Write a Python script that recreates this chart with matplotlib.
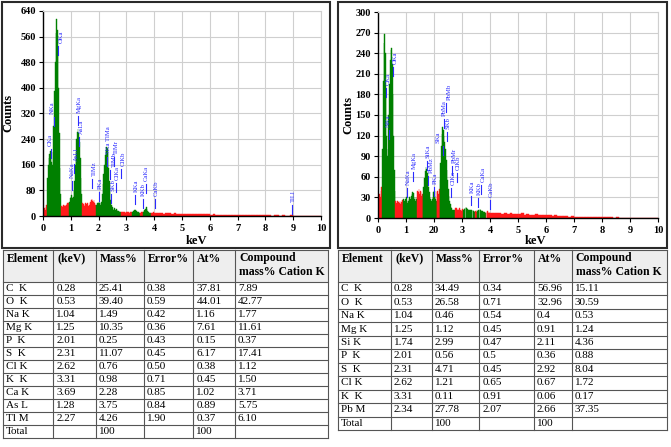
import numpy as np
import matplotlib
matplotlib.use('Agg')
import matplotlib.pyplot as plt
from matplotlib.patches import Rectangle

plt.rcParams['font.family'] = ['Liberation Serif', 'DejaVu Serif']

# ---------------------------------------------------------------- data
FINE_STEP = 0.025   # keV per channel below 4 keV
TAIL_STEP = 0.1     # keV per channel from 4 keV

counts_A_fine = [
    22, 26, 24, 18, 28, 35,
    120, 160, 180, 195, 203, 190, 170, 160, 200, 280,
    390, 480, 570, 615, 580, 520, 400, 260, 150, 70,
    30, 32, 28, 35, 30, 33, 30, 35, 38, 40, 42, 40,
    45, 55, 60, 65, 55, 60, 80, 110, 160, 200, 240, 262, 272, 260, 230, 180, 120, 70,
    40, 35, 38, 30, 35, 40, 38, 35, 42, 30, 35, 40, 45, 50, 52, 48, 45, 50, 40, 35,
    35, 35, 40, 42, 45, 40, 35, 40, 45, 70, 100, 130, 160, 190, 205, 215, 212, 190,
    150, 110, 75, 50, 35, 28,
    22, 20, 25, 18, 20, 22, 18, 15, 17, 15, 14, 12,
    12, 10, 14, 11, 13, 12, 10, 14, 12, 11, 13, 12, 10, 12, 11, 13,
    12, 14, 16, 18, 20, 18, 15, 13, 12, 11, 10, 9,
    10, 12, 9, 11,
    12, 15, 18, 22, 28, 22, 16, 12, 10, 9, 10, 8,
    10, 9, 11, 10,
]
counts_A_tail = [
    9, 8, 9, 7, 8, 8, 7, 8, 6, 7,
    6, 7, 6, 5, 6, 5, 6, 7, 5, 5,
    4, 5, 4, 4, 3, 4, 4, 3, 4, 3,
    3, 3, 2, 3, 3, 2, 2, 3, 2, 2,
    2, 2, 1, 2, 2, 1, 2, 1, 1, 2,
    1, 1, 1, 1, 1, 1, 1, 1, 1, 1,
]
green_A = [(0.15, 0.65), (0.95, 1.4), (1.9, 2.8), (3.2, 3.5), (3.6, 3.9)]

counts_B_fine = [
    32, 28, 35, 30, 40, 45,
    100, 200, 255, 268, 240, 180, 120, 90, 100, 150, 195, 230, 245, 247, 225, 180, 120, 70, 40,
    25, 22, 25, 20, 24, 22, 25, 20, 23, 18, 26,
    28, 25, 22, 28, 30, 25, 22, 25, 28, 30, 28, 32, 35, 38, 36, 30, 28, 25, 30, 28,
    40, 38, 42, 35, 40, 38, 32, 35,
    35, 45, 58, 68, 75, 72, 65, 55, 45, 38, 30, 28, 25, 28, 30, 38, 40, 32, 28, 25,
    38, 40, 35, 42,
    55, 80, 105, 122, 133, 128, 120, 110, 100, 85, 70, 55, 42, 32, 25, 20, 16, 14, 12, 12, 10, 11,
    14, 12, 15, 11, 13, 12, 14, 11, 12, 10, 13, 11,
    12, 13, 15, 16, 14, 13, 12, 11, 12, 10, 11, 12, 10, 11, 10, 9, 10,
    10, 9, 11,
    10, 11, 12, 13, 11, 10, 9, 10, 9, 8, 9, 8,
    9, 8, 10, 8, 9, 8,
]
counts_B_tail = [
    8, 7, 8, 7, 6, 7, 6, 7, 6, 6,
    6, 7, 5, 6, 5, 5, 6, 5, 4, 5,
    4, 4, 3, 4, 3, 3, 3, 3, 2, 3,
    2, 2, 2, 2, 1.5, 2, 1.5, 1, 1.5, 1,
    1, 1, 1.5, 1, 0.5, 1, 0.5, 0.5, 0.5, 0,
    0.5, 0, 0, 0, 0.5, 0, 0, 0, 0, 0,
]
green_B = [(0.15, 0.625), (0.9, 1.4), (1.6, 2.1), (2.2, 2.75), (3.05, 3.475), (3.55, 3.85)]

# peak identification labels (line energy, text level in counts)
label_names_A = ['CKa', 'NKa', 'OKa', 'NaKa', 'AsLl', 'MgKa', 'AsLa', 'TlMz', 'PKa',
                 'SKa TlMa', 'TlMb', 'SKb', 'ClKa', 'TlMr', 'ClKb', 'KKa', 'KKb',
                 'CaKa', 'CaKb', 'TlLl']
label_keV_A = [0.277, 0.392, 0.525, 1.041, 1.12, 1.253, 1.282, 1.78, 2.013,
               2.307, 2.42, 2.464, 2.621, 2.57, 2.815, 3.312, 3.589, 3.69, 4.012, 8.953]
label_level_A = [218, 317, 540, 120, 172, 322, 255, 125, 83,
                 195, 152, 78, 112, 195, 156, 74, 62, 109, 62, 45]

label_names_B = ['CKa', 'NKa', 'OKa', 'NaKa', 'MgKa', 'SiKa', 'PbMz', 'PKa', 'SKa',
                 'PbMa', 'SKb', 'PbMb', 'ClKa', 'PbMr', 'ClKb', 'KKa', 'KKb', 'CaKa', 'CaKb']
label_keV_B = [0.277, 0.392, 0.525, 1.041, 1.253, 1.739, 1.78, 2.013, 2.307,
               2.342, 2.464, 2.443, 2.621, 2.65, 2.815, 3.312, 3.589, 3.69, 4.012]
label_level_B = [194, 133, 225, 48, 72, 87, 65, 50, 109,
                 148, 129, 172, 48, 80, 70, 36, 33, 53, 31]

xtick_labels_A = ['0', '1', '2', '3', '4', '5', '6', '7', '8', '9', '10']
xtick_labels_B = ['0', '1', '20', '3', '4', '5', '6', '7', '8', '9', '10']

# tables
table_header = ['Element', '(keV)', 'Mass%', 'Error%', 'At%', 'Compound\nmass% Cation K']

element_A = ['C  K', 'O  K', 'Na K', 'Mg K', 'P  K', 'S  K', 'Cl K', 'K  K', 'Ca K', 'As L', 'Tl M', 'Total']
kev_A = ['0.28', '0.53', '1.04', '1.25', '2.01', '2.31', '2.62', '3.31', '3.69', '1.28', '2.27', '']
mass_A = ['25.41', '39.40', '1.49', '10.35', '0.25', '11.07', '0.76', '0.98', '2.28', '3.75', '4.26', '100']
error_A = ['0.38', '0.59', '0.42', '0.36', '0.43', '0.45', '0.50', '0.71', '0.85', '0.84', '1.90', '']
at_A = ['37.81', '44.01', '1.16', '7.61', '0.15', '6.17', '0.38', '0.45', '1.02', '0.89', '0.37', '100']
compound_A = ['7.89', '42.77', '1.77', '11.61', '0.37', '17.41', '1.12', '1.50', '3.71', '5.75', '6.10', '']

element_B = ['C  K', 'O  K', 'Na K', 'Mg K', 'Si K', 'P  K', 'S  K', 'Cl K', 'K  K', 'Pb M', 'Total']
kev_B = ['0.28', '0.53', '1.04', '1.25', '1.74', '2.01', '2.31', '2.62', '3.31', '2.34', '']
mass_B = ['34.49', '26.58', '0.46', '1.12', '2.99', '0.56', '4.71', '1.21', '0.11', '27.78', '100']
error_B = ['0.34', '0.71', '0.54', '0.45', '0.47', '0.5', '0.45', '0.65', '0.91', '2.07', '']
at_B = ['56.96', '32.96', '0.4', '0.91', '2.11', '0.36', '2.92', '0.67', '0.06', '2.66', '100']
compound_B = ['15.11', '30.59', '0.53', '1.24', '4.36', '0.88', '8.04', '1.72', '0.17', '37.35', '']

# ---------------------------------------------------------------- layout / style
W, H = 671, 447
RED = '#ff1a1a'
GREEN = '#008000'
BLUE = '#2b2bff'
TAG_BLUE = '#1f2fd0'
LINE = '#555555'

# x position (keV) where each label text sits (layout only)
text_x_A = [0.26, 0.34, 0.64, 1.07, 1.2, 1.32, 1.39, 1.83, 2.05,
            2.36, 2.57, 2.53, 2.67, 2.64, 2.87, 3.35, 3.61, 3.73, 4.07, 9.0]
text_x_B = [0.38, 0.38, 0.62, 1.07, 1.31, 1.79, 1.91, 2.06, 2.14,
            2.38, 2.5, 2.56, 2.68, 2.71, 2.86, 3.37, 3.63, 3.77, 4.05]

fig = plt.figure(figsize=(W / 100, H / 100), dpi=100)
ov = fig.add_axes([0, 0, 1, 1])
ov.set_xlim(0, W)
ov.set_ylim(H, 0)
ov.axis('off')


def rect(x0, y0, x1, y1):
    return [x0 / W, 1 - y1 / H, (x1 - x0) / W, (y1 - y0) / H]


def draw_spectrum(box, fine, tail, green, names, kevs, levels, text_x,
                  ymax, ystep, xlabels, tag, tag_xy, ylab_x, xlab_xy):
    ax = fig.add_axes(rect(*box))
    e_f = np.arange(len(fine)) * FINE_STEP
    e_t = len(fine) * FINE_STEP + np.arange(len(tail)) * TAIL_STEP
    edges = np.concatenate([e_f, e_t])
    widths = np.concatenate([np.full(len(fine), FINE_STEP), np.full(len(tail), TAIL_STEP)])
    vals = np.array(list(fine) + list(tail), dtype=float)
    centers = edges + widths / 2
    isg = np.array([any(a <= c < b for a, b in green) for c in centers])
    cols = np.where(isg, GREEN, RED)
    ax.bar(edges, vals, width=widths, align='edge', color=cols, edgecolor=cols,
           linewidth=0.3, zorder=2)
    ax.set_xlim(0, 10)
    ax.set_ylim(0, ymax)
    ax.set_xticks(range(0, 11))
    ax.set_xticklabels(xlabels)
    ax.set_yticks(np.arange(0, ymax + 1, ystep))
    ax.grid(True, color='#cfcfcf', lw=0.8, zorder=0)
    ax.set_axisbelow(True)
    for s in ['top', 'right']:
        ax.spines[s].set_color('#cfcfcf')
        ax.spines[s].set_linewidth(0.8)
    for s in ['left', 'bottom']:
        ax.spines[s].set_color('black')
        ax.spines[s].set_linewidth(1.0)
    ax.tick_params(direction='out', length=3, width=0.8, labelsize=7.5, pad=2)
    ax.tick_params(axis='x', pad=3)
    for t in ax.get_xticklabels() + ax.get_yticklabels():
        t.set_fontweight('bold')
    # peak labels
    hpx = box[3] - box[1]
    cpp = ymax / hpx  # counts per pixel
    for n, k, lv, tx in zip(names, kevs, levels, text_x):
        ax.plot([k, k], [lv - 3 * cpp - 9 * cpp, lv - 3 * cpp], color=BLUE, lw=0.8, zorder=3)
        ax.text(tx, lv, n, rotation=90, ha='center', va='bottom', fontsize=4.8,
                color=BLUE, zorder=4)
    # texts in figure pixels
    ov.text(tag_xy[0], tag_xy[1], tag, color=TAG_BLUE, fontsize=12, fontweight='bold',
            ha='center', va='center')
    ov.text(ylab_x, (box[1] + box[3]) / 2, 'Counts', rotation=90, fontsize=9,
            fontweight='bold', ha='center', va='center')
    ov.text(xlab_xy[0], xlab_xy[1], 'keV', fontsize=9, fontweight='bold',
            ha='center', va='center')
    return ax


def draw_table(cols, y_top, y_head, y_bot, columns):
    x0, x1 = cols[0], cols[-1]
    nrow = len(columns[0])
    rh = (y_bot - y_head) / nrow
    ov.add_patch(Rectangle((x0, y_top), x1 - x0, y_head - y_top, facecolor='#eeeeee',
                           edgecolor='none', zorder=1))
    ys = [y_top, y_head] + [y_head + rh * i for i in range(1, nrow + 1)]
    for y in ys:
        ov.plot([x0, x1], [y, y], color=LINE, lw=0.8, zorder=2)
    for x in cols:
        ov.plot([x, x], [y_top, y_bot], color=LINE, lw=0.8, zorder=2)
    for j, h in enumerate(table_header):
        if '\n' in h:
            l1, l2 = h.split('\n')
            ov.text(cols[j] + 4, y_top + 8, l1, fontsize=8.5, fontweight='bold', va='center', ha='left', zorder=3)
            ov.text(cols[j] + 4, y_top + 22.5, l2, fontsize=8.5, fontweight='bold', va='center', ha='left', zorder=3)
        else:
            ov.text(cols[j] + 4, y_top + 9, h, fontsize=8.5, fontweight='bold', va='center', ha='left', zorder=3)
    for j, col in enumerate(columns):
        for i, v in enumerate(col):
            ov.text(cols[j] + 3, y_head + rh * (i + 0.5), v, fontsize=8, va='center',
                    ha='left', zorder=3)


# outer frames
ov.add_patch(Rectangle((1.5, 1.5), 328, 246, facecolor='none', edgecolor='#2a2a2a', lw=1.5))
ov.add_patch(Rectangle((338, 1.5), 329, 246, facecolor='none', edgecolor='#2a2a2a', lw=1.5))

draw_spectrum((43, 11, 321, 216), counts_A_fine, counts_A_tail, green_A,
              label_names_A, label_keV_A, label_level_A, text_x_A,
              640, 80, xtick_labels_A, '(A)', (307, 21), 8.5, (196, 241))
draw_spectrum((378, 12, 658, 218), counts_B_fine, counts_B_tail, green_B,
              label_names_B, label_keV_B, label_level_B, text_x_B,
              300, 30, xtick_labels_B, '(B)', (647, 21), 348, (535, 241))

draw_table([3.3, 53.3, 95.7, 144, 193.3, 235, 328.3], 249.5, 282, 438,
           [element_A, kev_A, mass_A, error_A, at_A, compound_A])
draw_table([338.3, 391, 431.7, 479.3, 534, 571.7, 666.7], 249.5, 282, 430,
           [element_B, kev_B, mass_B, error_B, at_B, compound_B])

fig.savefig('out.png', dpi=100)
